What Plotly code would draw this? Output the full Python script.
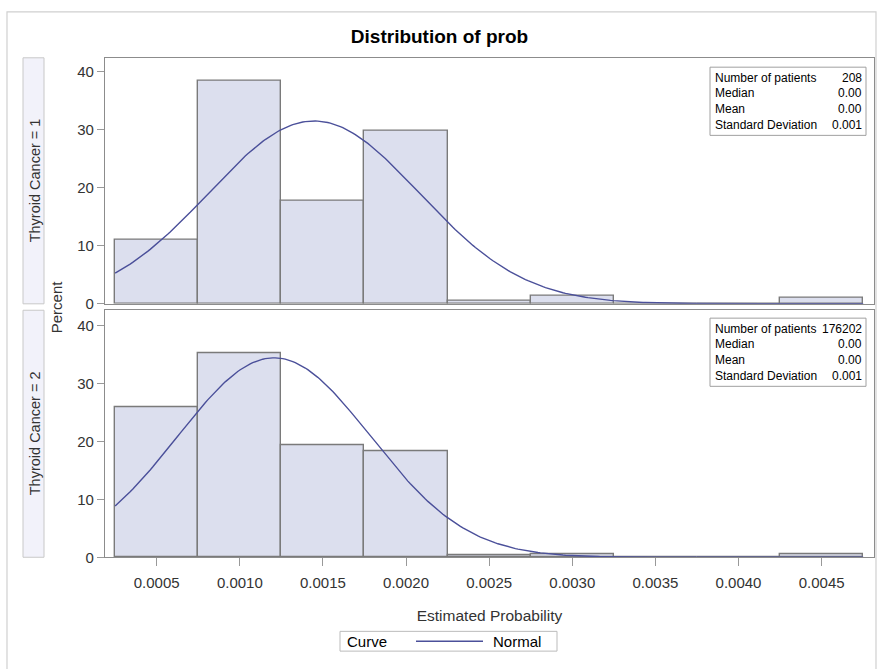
import numpy as np
import plotly.graph_objects as go

# ---------------- data ----------------
bin_centers = [0.0005, 0.0010, 0.0015, 0.0020, 0.0025, 0.0030, 0.0035, 0.0040, 0.0045]
bin_width = 0.0005
pct_cancer1 = [11.06, 38.46, 17.79, 29.81, 0.48, 1.44, 0.0, 0.0, 0.96]
pct_cancer2 = [25.8, 35.1, 19.4, 18.2, 0.3, 0.6, 0.05, 0.05, 0.5]
normal_mu = [0.001446, 0.001206]
normal_sigma = [0.000633, 0.000580]
panel_labels = ["Thyroid Cancer = 1", "Thyroid Cancer = 2"]
stat_labels = ["Number of patients", "Median", "Mean", "Standard Deviation"]
stat_values1 = ["208", "0.00", "0.00", "0.001"]
stat_values2 = ["176202", "0.00", "0.00", "0.001"]
x_ticks = [0.0005, 0.0010, 0.0015, 0.0020, 0.0025, 0.0030, 0.0035, 0.0040, 0.0045]
y_ticks = [0, 10, 20, 30, 40]

# ---------------- styling ----------------
W, H = 879, 669
FONT = "Liberation Sans, Arial, sans-serif"
BAR_FILL = "#DCDFEE"
BAR_LINE = "#7A7A7A"
CURVE = "#4B509A"
FRAME = "#8C8C8C"
TXT = "#333333"


def xp(px):
    return px / W


def yp(py):
    return 1 - py / H


x_dom = [xp(105), xp(874)]
top_dom = [yp(307.5), yp(58.5)]
bot_dom = [yp(564), yp(314)]
x_range = [0.000189, 0.004815]

fig = go.Figure()

series = [pct_cancer1, pct_cancer2]
axes = [("x", "y"), ("x2", "y2")]
for i in range(2):
    xa, ya = axes[i]
    fig.add_trace(go.Bar(
        x=bin_centers, y=series[i], width=bin_width,
        marker=dict(color=BAR_FILL, line=dict(color=BAR_LINE, width=1.4)),
        xaxis=xa, yaxis=ya, showlegend=False, hoverinfo="x+y"))
    xs = np.linspace(bin_centers[0] - bin_width / 2, bin_centers[-1] + bin_width / 2, 300)
    mu, sd = normal_mu[i], normal_sigma[i]
    ys = 100 * bin_width * np.exp(-0.5 * ((xs - mu) / sd) ** 2) / (sd * np.sqrt(2 * np.pi))
    fig.add_trace(go.Scatter(
        x=xs, y=ys, mode="lines", name="Normal",
        line=dict(color=CURVE, width=1.4),
        xaxis=xa, yaxis=ya, showlegend=False))

common_axis = dict(showline=True, linecolor=FRAME, linewidth=1.3, mirror=True,
                   showgrid=False, zeroline=False)

fig.update_layout(
    width=W, height=H,
    margin=dict(l=0, r=0, t=0, b=0),
    paper_bgcolor="white", plot_bgcolor="white",
    font=dict(family=FONT, size=15, color=TXT),
    bargap=0,
    showlegend=False,
    title=dict(text="<b>Distribution of prob</b>", x=0.5, xanchor="center",
               y=yp(36), yanchor="middle",
               font=dict(family=FONT, size=19, color="#000000")),
    xaxis=dict(domain=x_dom, range=x_range, anchor="y", matches="x2",
               showticklabels=False, ticks="", **common_axis),
    xaxis2=dict(domain=x_dom, range=x_range, anchor="y2",
                tickvals=x_ticks, tickformat=".4f", ticks="outside", ticklen=8,
                ticklabelstandoff=4,
                tickcolor="#999999", tickfont=dict(size=15, color=TXT),
                title=dict(text="Estimated Probability", standoff=19,
                           font=dict(size=15.5, color=TXT)),
                **common_axis),
    yaxis=dict(domain=top_dom, range=[0, 42.4], anchor="x",
               tickvals=y_ticks, ticks="outside", ticklen=7, tickcolor="#999999",
               tickfont=dict(size=15, color=TXT), **common_axis),
    yaxis2=dict(domain=bot_dom, range=[0, 42.6], anchor="x2",
                tickvals=y_ticks, ticks="outside", ticklen=7, tickcolor="#999999",
                tickfont=dict(size=15, color=TXT), **common_axis),
)

shapes = []
annotations = []
# outer frame (its bottom edge lies well below the page, as in the reference)
shapes.append(dict(type="rect", xref="paper", yref="paper",
                   x0=xp(7), x1=xp(876), y0=-0.3, y1=yp(12),
                   line=dict(color="#D0D0D0", width=1.2), layer="below"))

doms = [top_dom, bot_dom]
stat_vals = [stat_values1, stat_values2]
box_tops = [68, 322]
for i in range(2):
    d = doms[i]
    # strip label box
    shapes.append(dict(type="rect", xref="paper", yref="paper",
                       x0=xp(23), x1=xp(44), y0=d[0], y1=d[1],
                       fillcolor="#F2F2FA", line=dict(color="#C8C8C8", width=1)))
    annotations.append(dict(xref="paper", yref="paper", x=xp(34.5), y=(d[0] + d[1]) / 2,
                            text=panel_labels[i], textangle=-90, showarrow=False,
                            font=dict(size=14.5, color=TXT), xanchor="center", yanchor="middle"))
    # statistics inset
    bt = box_tops[i]
    shapes.append(dict(type="rect", xref="paper", yref="paper",
                       x0=xp(710), x1=xp(866), y0=yp(bt + 69), y1=yp(bt),
                       fillcolor="white", line=dict(color="#A0A0A0", width=1)))
    for r in range(4):
        ry = bt + 10.5 + 16 * r
        annotations.append(dict(xref="paper", yref="paper", x=xp(713), y=yp(ry),
                                text=stat_labels[r], showarrow=False, xanchor="left",
                                yanchor="middle", font=dict(size=12, color="#000000")))
        annotations.append(dict(xref="paper", yref="paper", x=xp(863.5), y=yp(ry),
                                text=stat_vals[i][r], showarrow=False, xanchor="right",
                                yanchor="middle", font=dict(size=12, color="#000000")))

annotations.append(dict(xref="paper", yref="paper", x=xp(56), y=yp(310), text="Percent",
                        textangle=-90, showarrow=False, xanchor="center", yanchor="middle",
                        font=dict(size=15, color=TXT)))

# legend box: "Curve  —— Normal"
leg_y = 649
shapes.append(dict(type="rect", xref="paper", yref="paper",
                   x0=xp(340), x1=xp(557), y0=yp(leg_y + 10), y1=yp(leg_y - 10),
                   fillcolor="white", line=dict(color="#BBBBBB", width=1)))
shapes.append(dict(type="line", xref="paper", yref="paper",
                   x0=xp(416), x1=xp(483), y0=yp(leg_y), y1=yp(leg_y),
                   line=dict(color=CURVE, width=1.4)))
annotations.append(dict(xref="paper", yref="paper", x=xp(345), y=yp(leg_y), text="Curve",
                        showarrow=False, xanchor="left", yanchor="middle",
                        font=dict(size=15, color="#000000")))
annotations.append(dict(xref="paper", yref="paper", x=xp(491), y=yp(leg_y), text="Normal",
                        showarrow=False, xanchor="left", yanchor="middle",
                        font=dict(size=15, color="#000000")))

fig.update_layout(shapes=shapes, annotations=annotations)

fig.write_html("out.html", config={"displayModeBar": False},
               post_script="document.body.style.margin='0';document.body.style.padding='0';")
